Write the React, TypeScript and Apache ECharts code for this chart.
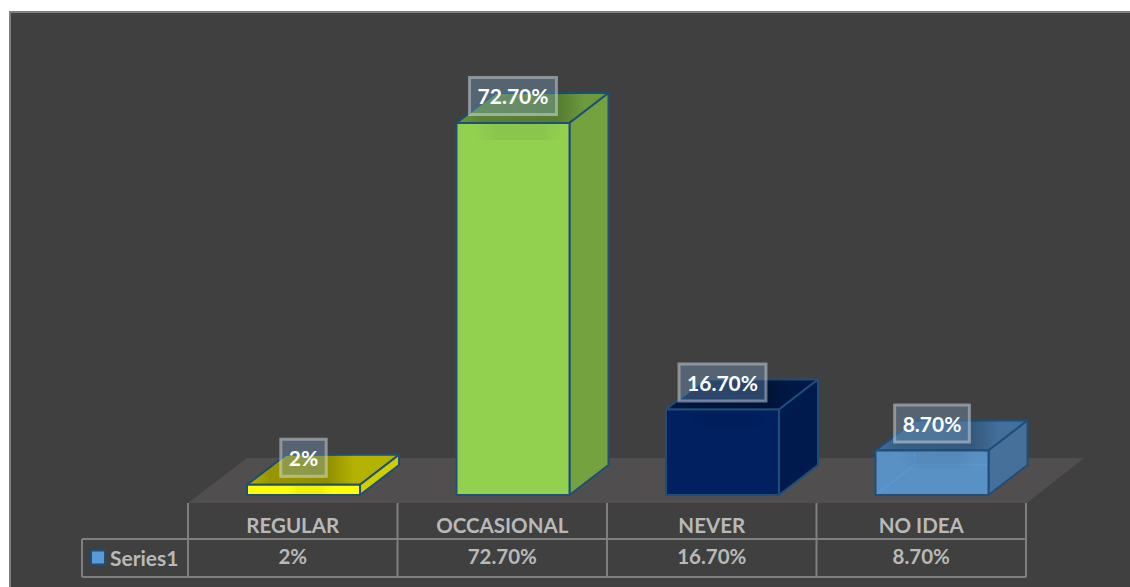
import React, { useEffect, useRef } from "react";
import * as echarts from "echarts";

const seriesName = "Series1";
const categories = ["REGULAR", "OCCASIONAL", "NEVER", "NO IDEA"];
const values = [2, 72.7, 16.7, 8.7];
const valueLabels = ["2%", "72.70%", "16.70%", "8.70%"];

const frontColors = ["#ffff00", "#92d050", "#002060", "rgba(91,155,213,0.88)"];
const topColors = ["#b4b200", "#6c9a3c", "#001845", "#426f9b"];
const sideColors = ["#cfcf00", "#73a23f", "#001a4e", "#466f9a"];
const edgeColor = "#1f4e79";

const FONT = "Lato, Carlito, 'Open Sans', sans-serif";
const PANEL = "#404040";
const RULE = "#7f7f7f";

// Oblique offset of the back face of each column
const DEPTH_X = 39;
const DEPTH_Y = -30;
const BAR_WIDTH = 113;
const BAR_SHIFT = 10.75;
const LABEL_RISE = 27;

// Table layout: the value row sits under the category row
const TABLE_LEFT = 188;
const TABLE_RIGHT = 1026;
const TABLE_TOP = 503;
const ROW_SPLIT = 539;
const TABLE_BOTTOM = 577;
const HEADER_LEFT = 82;

function renderColumn(params: any, api: any) {
  const i = api.value(0) as number;
  const base = api.coord([i, 0]);
  const top = api.coord([i, api.value(1)]);
  const x0 = base[0] + BAR_SHIFT - BAR_WIDTH / 2;
  const x1 = x0 + BAR_WIDTH;
  const yb = base[1];
  const yt = top[1];
  const stroke = { stroke: edgeColor, lineWidth: 2, lineJoin: "round" };
  const children: any[] = [];
  const centre = x0 + BAR_WIDTH / 2;
  const labelWidth = valueLabels[i].length * 10.5 + 26;
  const topSpan = BAR_WIDTH + DEPTH_X;
  const shadeEdge = (centre + labelWidth / 2 - x0) / topSpan;

  // The lightest column is translucent, so its hidden back edges show through
  if (i === 3) {
    children.push({
      type: "polyline",
      shape: { points: [[x0, yb], [x0 + DEPTH_X, yb + DEPTH_Y], [x1 + DEPTH_X, yb + DEPTH_Y]] },
      style: { stroke: "#4a86bf", lineWidth: 1.5, fill: "none" },
    });
    children.push({
      type: "line",
      shape: { x1: x0 + DEPTH_X, y1: yb + DEPTH_Y, x2: x0 + DEPTH_X, y2: yt + DEPTH_Y },
      style: { stroke: "#4a86bf", lineWidth: 1.5 },
    });
  }
  const topPoints = [[x0, yt], [x1, yt], [x1 + DEPTH_X, yt + DEPTH_Y], [x0 + DEPTH_X, yt + DEPTH_Y]];
  children.push({
    type: "polygon",
    shape: { points: topPoints },
    style: { fill: topColors[i], ...stroke },
  });
  // Soft shade cast on the top face by the value label
  children.push({
    type: "polygon",
    shape: { points: topPoints },
    style: {
      fill: new echarts.graphic.LinearGradient(0, 0, 1, 0, [
        { offset: 0, color: "rgba(0,0,0,0)" },
        { offset: 0.15, color: "rgba(0,0,0,0.16)" },
        { offset: shadeEdge, color: "rgba(0,0,0,0.2)" },
        { offset: Math.min(shadeEdge + 0.18, 1), color: "rgba(0,0,0,0)" },
        { offset: 1, color: "rgba(0,0,0,0)" },
      ]),
    },
  });
  children.push({
    type: "polygon",
    shape: { points: [[x1, yt], [x1 + DEPTH_X, yt + DEPTH_Y], [x1 + DEPTH_X, yb + DEPTH_Y], [x1, yb]] },
    style: { fill: sideColors[i], ...stroke },
  });
  children.push({
    type: "rect",
    shape: { x: x0, y: yt, width: BAR_WIDTH, height: yb - yt },
    style: { fill: frontColors[i], ...stroke },
  });
  // The same shade falls a little way down the front face, fading at its sides
  children.push({
    type: "rect",
    shape: {
      x: centre - labelWidth / 2 + 6,
      y: yt + 1,
      width: labelWidth,
      height: Math.min(16, yb - yt - 2),
    },
    style: {
      fill: new echarts.graphic.LinearGradient(0, 0, 1, 0, [
        { offset: 0, color: "rgba(0,0,0,0)" },
        { offset: 0.25, color: "rgba(0,0,0,0.05)" },
        { offset: 0.75, color: "rgba(0,0,0,0.05)" },
        { offset: 1, color: "rgba(0,0,0,0)" },
      ]),
    },
  });
  children.push({
    type: "text",
    x: centre,
    y: yt - LABEL_RISE,
    style: {
      text: valueLabels[i],
      font: `bold 21px ${FONT}`,
      fill: "#ffffff",
      align: "center",
      verticalAlign: "middle",
      backgroundColor: "rgba(130,170,210,0.33)",
      borderColor: "rgba(255,255,255,0.42)",
      borderWidth: 1.5,
      padding: [8, 8, 8, 8],
    },
  });
  return { type: "group", children };
}

function tableLines() {
  const lines: number[][] = [
    [HEADER_LEFT, ROW_SPLIT, TABLE_RIGHT, ROW_SPLIT],
    [HEADER_LEFT, TABLE_BOTTOM, TABLE_RIGHT, TABLE_BOTTOM],
    [HEADER_LEFT, ROW_SPLIT, HEADER_LEFT, TABLE_BOTTOM],
  ];
  const cell = (TABLE_RIGHT - TABLE_LEFT) / categories.length;
  for (let i = 0; i <= categories.length; i++) {
    const x = TABLE_LEFT + i * cell;
    lines.push([x, TABLE_TOP, x, TABLE_BOTTOM]);
  }
  return lines.map(([x1, y1, x2, y2]) => ({
    type: "line",
    z: 1,
    shape: { x1, y1, x2, y2 },
    style: { stroke: RULE, lineWidth: 2 },
  }));
}

export default function App() {
  const ref = useRef<HTMLDivElement>(null);

  useEffect(() => {
    const chart = echarts.init(ref.current!, undefined, { renderer: "svg" });
    const axisText = { color: "#b9b9b9", fontFamily: FONT, fontWeight: "bold" as const, fontSize: 20.5 };
    chart.setOption({
      animation: false,
      backgroundColor: "#ffffff",
      legend: {
        show: true,
        left: 90,
        top: 547,
        icon: "rect",
        itemWidth: 14,
        itemHeight: 14,
        itemGap: 0,
        padding: 0,
        data: [seriesName],
        textStyle: { ...axisText, fontSize: 21, padding: [0, 0, 4, 0] },
        itemStyle: { borderColor: edgeColor, borderWidth: 2 },
      },
      grid: { left: TABLE_LEFT, width: TABLE_RIGHT - TABLE_LEFT, top: 85.6, height: 409.4 },
      xAxis: [
        {
          type: "category",
          position: "bottom",
          data: categories,
          axisLine: { show: false },
          axisTick: { show: false },
          axisLabel: { ...axisText, margin: 19.5, interval: 0 },
        },
        {
          type: "category",
          position: "bottom",
          data: valueLabels,
          axisLine: { show: false },
          axisTick: { show: false },
          axisLabel: { ...axisText, margin: 50.5, interval: 0 },
        },
      ],
      yAxis: { type: "value", min: 0, max: 80, show: false },
      graphic: {
        elements: [
          {
            type: "rect",
            z: -2,
            shape: { x: 10, y: 12, width: 1125, height: 580 },
            style: { fill: PANEL, stroke: "#808080", lineWidth: 2 },
          },
          {
            type: "polygon",
            z: 0,
            shape: { points: [[188, TABLE_TOP], [1027, TABLE_TOP], [1084, 458], [247, 458]] },
            style: { fill: "#504e4f" },
          },
          ...tableLines(),
        ],
      },
      series: [
        {
          type: "custom",
          name: seriesName,
          xAxisIndex: 0,
          clip: false,
          itemStyle: { color: "#5b9bd5" },
          renderItem: renderColumn,
          encode: { x: 0, y: 1 },
          data: values.map((v, i) => [i, v]),
        },
      ],
    });
    return () => chart.dispose();
  }, []);

  return (
    <div
      ref={ref}
      style={{ position: "absolute", left: 0, top: 0, width: 1130, height: 587 }}
    />
  );
}
